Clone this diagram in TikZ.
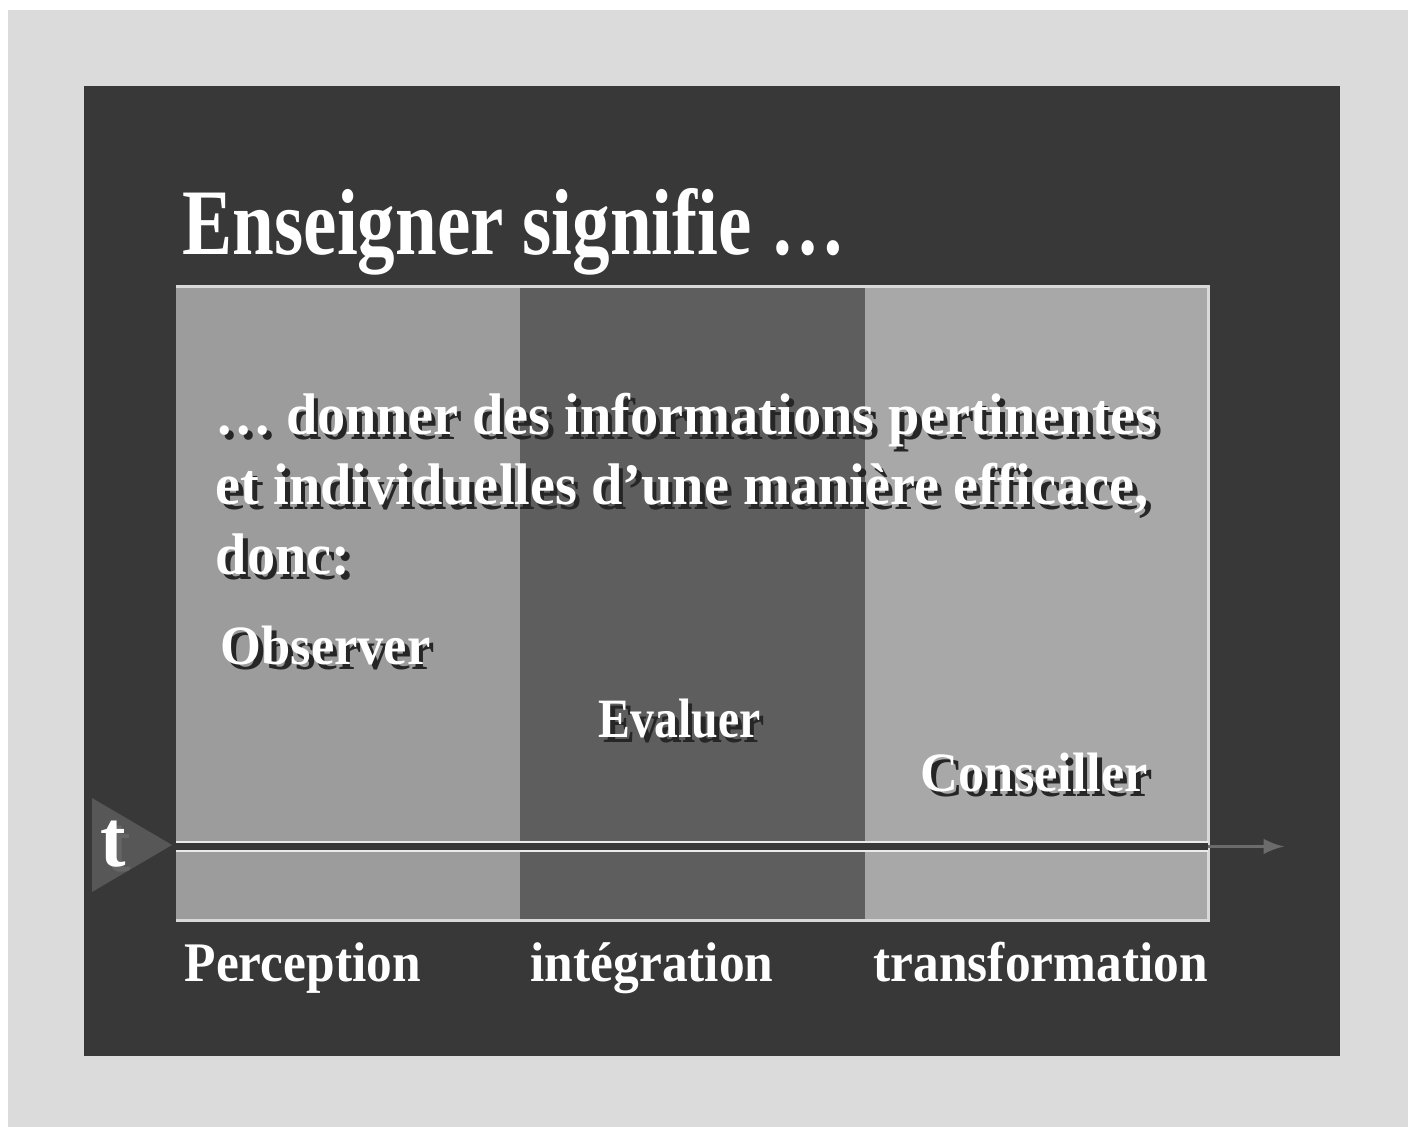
\documentclass[tikz,border=0pt]{standalone}
\usepackage{fontspec}
\setmainfont{Liberation Serif}
\newfontfamily\slidetitlefont{Liberation Serif}[FakeStretch=0.80]
\newfontfamily\slidebodyfont{Liberation Serif}[FakeStretch=0.96]
\newfontfamily\slidemarkfont{Liberation Serif}[FakeStretch=0.945]
\newfontfamily\slidenarrowfont{Liberation Serif}[FakeStretch=0.86]
\newfontfamily\slidelabelfont{Liberation Serif}[FakeStretch=0.92]
\usepackage{tikz}
\usetikzlibrary{arrows,positioning,shapes.geometric}

\definecolor{paper}{gray}{0.86}
\definecolor{slide}{gray}{0.22}
\definecolor{colA}{gray}{0.61}
\definecolor{colB}{gray}{0.37}
\definecolor{colC}{gray}{0.66}
\definecolor{tri}{gray}{0.34}
\definecolor{tail}{gray}{0.42}

\newcommand\titlefnt{\slidetitlefont\bfseries\fontsize{26.7}{30}\selectfont}
\newcommand\bodyfnt{\slidebodyfont\bfseries\fontsize{16.7}{20}\selectfont}
\newcommand\markfnt{\slidemarkfont\bfseries\fontsize{15.8}{19}\selectfont}
\newcommand\narrowfnt{\slidenarrowfont\bfseries\fontsize{15.8}{19}\selectfont}
\newcommand\labelfnt{\slidelabelfont\bfseries\fontsize{15.9}{19}\selectfont}

\begin{document}
\begin{tikzpicture}[
		slidetext/.style={text=white, inner sep=0pt, anchor=base west},
		dropshadow/.style={text=black!85, inner sep=0pt, anchor=base west, xshift=0.45mm, yshift=-0.45mm},
	]
		\useasboundingbox (0,0) rectangle (14.08,11.27);
		
		% Paper and slide
		\fill[white] (0,0) rectangle (14.08,11.27);
		\fill[paper] (0.08,0) rectangle (14.08,11.17);
		\fill[slide] (0.84,0.71) rectangle (13.40,10.41);
		
		% Columns
		\fill[colA] (1.76,2.06) rectangle (5.20,8.40);
		\fill[colB] (5.20,2.06) rectangle (8.65,8.40);
		\fill[colC] (8.65,2.06) rectangle (12.08,8.40);
		\draw[white!85!black, line width=0.3mm] (1.76,8.40) -- (12.08,8.40) -- (12.08,2.06) -- (1.76,2.06);
		
		% Time axis
		\fill[tri] (0.92,3.29) -- (1.72,2.82) -- (0.92,2.35) -- cycle;
		\coordinate (tstart) at (1.76,2.805);
		\coordinate (tpanel) at (12.08,2.805);
		\coordinate (tend) at (12.84,2.805);
		\draw[white!92!black, line width=1.1mm] (tstart) -- (tpanel);
		\draw[slide, line width=0.7mm] (tstart) -- (tpanel);
		\draw[tail, line width=0.35mm, -latex] (tpanel) -- (tend);
		\node[dropshadow, text=black!60, font=\markfnt\fontsize{23}{26}\selectfont] at (1.00,2.60) {t};
		\node[slidetext, font=\markfnt\fontsize{23}{26}\selectfont] (t) at (1.00,2.60) {t};
		
		% Title
		\node[slidetext, font=\titlefnt] (title) at (1.82,8.72) {Enseigner signifie \ldots};
		
		% Text
		\foreach \n/\y/\txt in {one/6.92/{\ldots{} donner des informations pertinentes},
			two/6.22/{et individuelles d’une manière efficace,},
			three/5.52/{donc:}} {
			\node[dropshadow, font=\bodyfnt] at (2.15,\y) {\txt};
			\node[slidetext, font=\bodyfnt] (\n) at (2.15,\y) {\txt};
		}
		\foreach \n/\x/\y/\f/\txt in {observer/2.20/4.62/\markfnt/Observer,
			evaluer/5.98/3.89/\narrowfnt/Evaluer,
			conseiller/9.20/3.35/\markfnt/Conseiller} {
			\node[dropshadow, font=\f] at (\x,\y) {\txt};
			\node[slidetext, font=\f] (\n) at (\x,\y) {\txt};
		}
		
		% Stages
		\node[slidetext, font=\labelfnt] (perception) at (1.84,1.45) {Perception};
		\node[slidetext, font=\labelfnt] (integration) at (5.30,1.45) {intégration};
		\node[slidetext, font=\labelfnt] (transformation) at (8.73,1.45) {transformation};
	\end{tikzpicture}
\end{document}
